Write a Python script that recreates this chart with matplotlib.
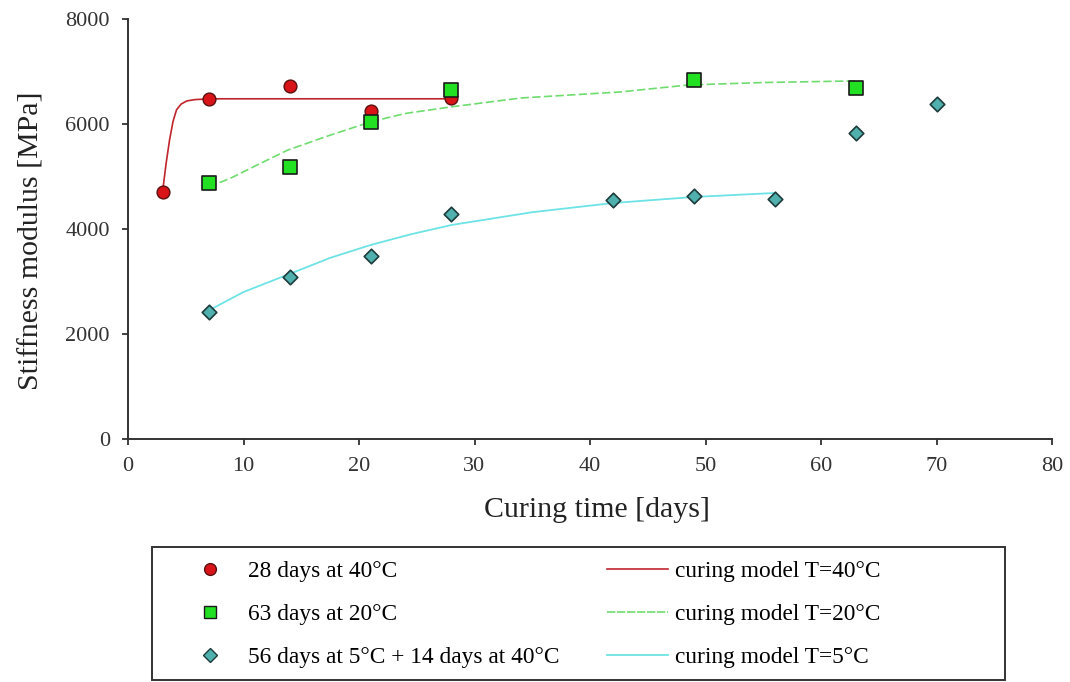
import numpy as np
import matplotlib.pyplot as plt
from matplotlib.lines import Line2D
from matplotlib.patches import Rectangle

plt.rcParams['font.family'] = ['Liberation Serif', 'DejaVu Serif']

# measured stiffness modulus [MPa] vs curing time [days]
days_40 = [3, 7, 14, 21, 28]
stiff_40 = [4700, 6480, 6720, 6250, 6500]

days_20 = [7, 14, 21, 28, 49, 63]
stiff_20 = [4870, 5180, 6040, 6650, 6840, 6680]

days_5 = [7, 14, 21, 28, 42, 49, 56, 63, 70]
stiff_5 = [2420, 3090, 3480, 4290, 4560, 4620, 4570, 5820, 6390]

# curing model curves
model40_x = [3, 3.3, 3.6, 3.9, 4.2, 4.6, 5.1, 5.8, 6.8, 8, 10, 15, 20, 28]
model40_y = [4720, 5250, 5700, 6050, 6270, 6380, 6440, 6465, 6476, 6480, 6480, 6480, 6480, 6480]

model20_x = [7, 9, 11, 13.8, 17, 21, 24, 27.9, 34, 42.6, 48.5, 55, 62.5, 63]
model20_y = [4800, 4980, 5200, 5500, 5750, 6040, 6200, 6324, 6495, 6610, 6743, 6790, 6819, 6820]

model5_x = [7, 10, 14.2, 17.5, 21, 24.5, 28, 35, 42, 49, 56]
model5_y = [2450, 2800, 3162, 3450, 3695, 3900, 4076, 4320, 4495, 4610, 4686]

legend_labels = ['28 days at 40°C', '63 days at 20°C', '56 days at 5°C + 14 days at 40°C',
                 'curing model T=40°C', 'curing model T=20°C', 'curing model T=5°C']

fig = plt.figure(figsize=(10.7, 6.82), dpi=100)
ax = fig.add_axes([128/1070, 1-439/682, (1052-128)/1070, (439-19)/682])

ax.plot(model40_x, model40_y, color='#c0242c', lw=1.2, zorder=2)
ax.plot(model20_x, model20_y, color='#6fdc6f', lw=1.2, ls=(0, (5, 2)), zorder=2)
ax.plot(model5_x, model5_y, color='#6ee3e6', lw=1.3, zorder=2)

ax.scatter(days_40, stiff_40, marker='o', s=85, color='#d81418', edgecolors='#5a1010', linewidths=1, zorder=3)
ax.scatter(days_20, stiff_20, marker='s', s=95, color='#22e022', edgecolors='#1a1a1a', linewidths=1.2, zorder=4)
ax.scatter(days_5, stiff_5, marker='D', s=55, color='#4fb0ae', edgecolors='#1e3b3b', linewidths=1.2, zorder=3)

ax.set_xlim(0, 80)
ax.set_ylim(0, 8000)
ax.set_xticks(np.arange(0, 81, 10))
ax.set_yticks(np.arange(0, 8001, 2000))
ax.spines['top'].set_visible(False)
ax.spines['right'].set_visible(False)
for s in ['left', 'bottom']:
    ax.spines[s].set_color('#333333')
    ax.spines[s].set_linewidth(1.4)
ax.tick_params(direction='out', length=4, width=1.3, color='#333333', pad=9,
               labelsize=16, labelcolor='#333333')
ax.set_xlabel('Curing time [days]', fontsize=21.5, color='#222222')
ax.set_ylabel('Stiffness modulus [MPa]', fontsize=21.5, color='#222222')
ax.xaxis.set_label_coords(0.508, -0.138)
ax.yaxis.set_label_coords(-0.09, 0.471)

# legend
handles = [
    Line2D([], [], ls='none', marker='o', ms=8.5, mfc='#d81418', mec='#5a1010'),
    Line2D([], [], ls='none', marker='s', ms=8.5, mfc='#22e022', mec='#1a1a1a'),
    Line2D([], [], ls='none', marker='D', ms=7, mfc='#4fb0ae', mec='#1e3b3b'),
    Line2D([], [], color='#c0242c', lw=1.2),
    Line2D([], [], color='#6fdc6f', lw=1.2, ls=(0, (5, 1))),
    Line2D([], [], color='#6ee3e6', lw=1.3),
]
fig.legend(handles, legend_labels, ncol=2, loc='upper left',
           bbox_to_anchor=(180/1070, 1-561/682), frameon=False,
           fontsize=16.8, handlelength=2.6, handletextpad=0.3,
           columnspacing=2.05, labelspacing=0.92, borderpad=0, borderaxespad=0)
fig.patches.append(Rectangle((152/1070, 1-680/682), (1005-152)/1070, (680-547)/682,
                             transform=fig.transFigure, fill=False,
                             edgecolor='#333333', lw=1.4))

fig.savefig('out.png', dpi=100)
